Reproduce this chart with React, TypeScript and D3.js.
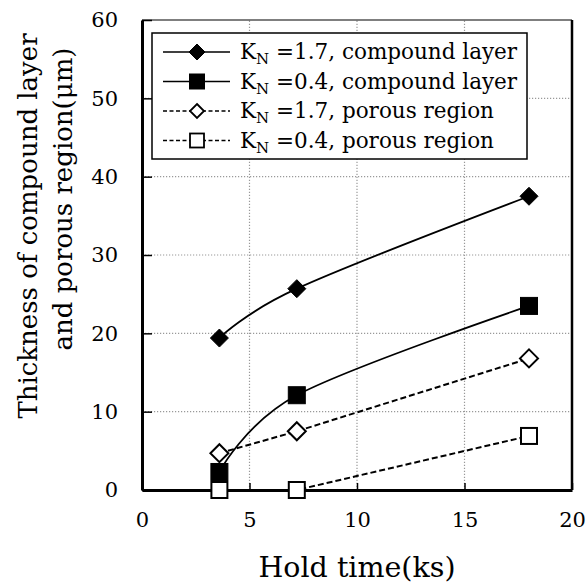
import React, { useEffect, useRef } from "react";
import * as d3 from "d3";

// hold time (ks)
const holdTime = [3.6, 7.2, 18];
// thickness (um)
const kn17Compound = [19.4, 25.7, 37.5];
const kn04Compound = [2.3, 12.1, 23.5];
const kn17Porous = [4.7, 7.5, 16.8];
const kn04Porous = [0, 0, 6.9];

const xTicks = [0, 5, 10, 15, 20];
const yTicks = [0, 10, 20, 30, 40, 50, 60];

const seriesList = [
  { kn: "1.7", name: "compound layer", values: kn17Compound, marker: "diamond", filled: true, dashed: false },
  { kn: "0.4", name: "compound layer", values: kn04Compound, marker: "square", filled: true, dashed: false },
  { kn: "1.7", name: "porous region", values: kn17Porous, marker: "diamond", filled: false, dashed: true },
  { kn: "0.4", name: "porous region", values: kn04Porous, marker: "square", filled: false, dashed: true },
];

const FONT = "'DejaVu Serif', serif";

const App = () => {
  const ref = useRef<SVGSVGElement>(null);

  useEffect(() => {
    const width = 587;
    const height = 585;
    const margin = { top: 20, right: 15, bottom: 95, left: 142 };

    const svg = d3.select(ref.current);
    svg.selectAll("*").remove();

    const x = d3.scaleLinear().domain([0, 20]).range([margin.left, width - margin.right]);
    const y = d3.scaleLinear().domain([0, 60]).range([height - margin.bottom, margin.top]);

    // grid
    svg.append("g")
      .selectAll("line")
      .data(xTicks.slice(1, -1))
      .join("line")
      .attr("x1", (d) => x(d)).attr("x2", (d) => x(d))
      .attr("y1", y(0)).attr("y2", y(60))
      .attr("stroke", "#999").attr("stroke-width", 1.2).attr("stroke-dasharray", "1.2,1.8");
    svg.append("g")
      .selectAll("line")
      .data(yTicks.slice(1, -1))
      .join("line")
      .attr("x1", x(0)).attr("x2", x(20))
      .attr("y1", (d) => y(d)).attr("y2", (d) => y(d))
      .attr("stroke", "#999").attr("stroke-width", 1.2).attr("stroke-dasharray", "1.2,1.8");

    // frame top/right
    svg.append("path")
      .attr("d", `M${x(0)},${y(60)}H${x(20)}`)
      .attr("fill", "none").attr("stroke", "#000").attr("stroke-width", 1.2);
    svg.append("path")
      .attr("d", `M${x(20)},${y(60)}V${y(0)}`)
      .attr("fill", "none").attr("stroke", "#000").attr("stroke-width", 2.5);

    // axes with inward ticks
    const xAxis = svg.append("g")
      .attr("transform", `translate(0,${y(0)})`)
      .call(d3.axisBottom(x).tickValues(xTicks).tickSizeInner(-7).tickSizeOuter(0).tickPadding(22));
    const yAxis = svg.append("g")
      .attr("transform", `translate(${x(0)},0)`)
      .call(d3.axisLeft(y).tickValues(yTicks).tickSizeInner(-10).tickSizeOuter(0).tickPadding(24));
    [xAxis, yAxis].forEach((a) => {
      a.select(".domain").attr("stroke", "#000").attr("stroke-width", 3);
      a.selectAll(".tick line").attr("stroke", "#000").attr("stroke-width", 1.5);
      a.selectAll(".tick text").attr("font-family", FONT).attr("font-size", 21).attr("fill", "#000");
    });

    // axis titles
    svg.append("text")
      .attr("x", 357).attr("y", 577)
      .attr("text-anchor", "middle")
      .attr("font-family", FONT).attr("font-size", 28.5)
      .text("Hold time(ks)");
    svg.append("text")
      .attr("transform", "translate(37,226) rotate(-90)")
      .attr("text-anchor", "middle")
      .attr("font-family", FONT).attr("font-size", 26)
      .text("Thickness of compound layer");
    svg.append("text")
      .attr("transform", "translate(72,199) rotate(-90)")
      .attr("text-anchor", "middle")
      .attr("font-family", FONT).attr("font-size", 26)
      .text("and porous region(\u03bcm)");

    const drawMarker = (g, kind, filled, cx, cy) => {
      if (kind === "diamond") {
        const r = 9;
        g.append("path")
          .attr("d", `M${cx},${cy - r}L${cx + r},${cy}L${cx},${cy + r}L${cx - r},${cy}Z`)
          .attr("fill", filled ? "#000" : "#fff")
          .attr("stroke", "#000").attr("stroke-width", filled ? 1 : 2);
      } else {
        const s = filled ? 17 : 16;
        g.append("rect")
          .attr("x", cx - s / 2).attr("y", cy - s / 2)
          .attr("width", s).attr("height", s)
          .attr("fill", filled ? "#000" : "#fff")
          .attr("stroke", "#000").attr("stroke-width", filled ? 1 : 2);
      }
    };

    // series
    seriesList.forEach((s) => {
      const pts = holdTime.map((t, i) => [t, s.values[i]]);
      const line = d3.line()
        .x((d) => x(d[0]))
        .y((d) => y(d[1]))
        .curve(s.dashed ? d3.curveLinear : d3.curveCardinal.tension(0));
      svg.append("path")
        .datum(pts)
        .attr("fill", "none")
        .attr("stroke", "#000")
        .attr("stroke-width", s.dashed ? 2 : 1.8)
        .attr("stroke-dasharray", s.dashed ? "6,3" : null)
        .attr("d", line);
    });
    seriesList.forEach((s) => {
      const g = svg.append("g");
      holdTime.forEach((t, i) => drawMarker(g, s.marker, s.filled, x(t), y(s.values[i])));
    });

    // legend
    const lg = svg.append("g");
    lg.append("rect")
      .attr("x", 152).attr("y", 33).attr("width", 375).attr("height", 126)
      .attr("fill", "#fff").attr("stroke", "#000").attr("stroke-width", 1.5);
    seriesList.forEach((s, i) => {
      const cy = 52 + i * 29.5;
      lg.append("line")
        .attr("x1", 163).attr("x2", 230).attr("y1", cy).attr("y2", cy)
        .attr("stroke", "#000").attr("stroke-width", 1.5)
        .attr("stroke-dasharray", s.dashed ? "4,2.5" : null);
      const g = lg.append("g");
      if (s.marker === "diamond") {
        const r = s.filled ? 8 : 7;
        g.append("path")
          .attr("d", `M197,${cy - r}L${197 + r},${cy}L197,${cy + r}L${197 - r},${cy}Z`)
          .attr("fill", s.filled ? "#000" : "#fff")
          .attr("stroke", "#000").attr("stroke-width", s.filled ? 1 : 1.8);
      } else {
        const sz = s.filled ? 15 : 14;
        g.append("rect")
          .attr("x", 197 - sz / 2).attr("y", cy - sz / 2).attr("width", sz).attr("height", sz)
          .attr("fill", s.filled ? "#000" : "#fff")
          .attr("stroke", "#000").attr("stroke-width", s.filled ? 1 : 1.8);
      }
      const t = lg.append("text")
        .attr("x", 240).attr("y", cy + 7)
        .attr("font-family", FONT).attr("font-size", 21.5);
      t.append("tspan").text("K");
      t.append("tspan").attr("font-size", 15).attr("dy", 5).text("N");
      t.append("tspan").attr("dy", -5).text(` =${s.kn}, ${s.name}`);
    });
  }, []);

  return (
    <svg
      ref={ref}
      width={587}
      height={585}
      style={{ position: "absolute", left: 0, top: 0, background: "#fff" }}
    />
  );
};

export default App;
